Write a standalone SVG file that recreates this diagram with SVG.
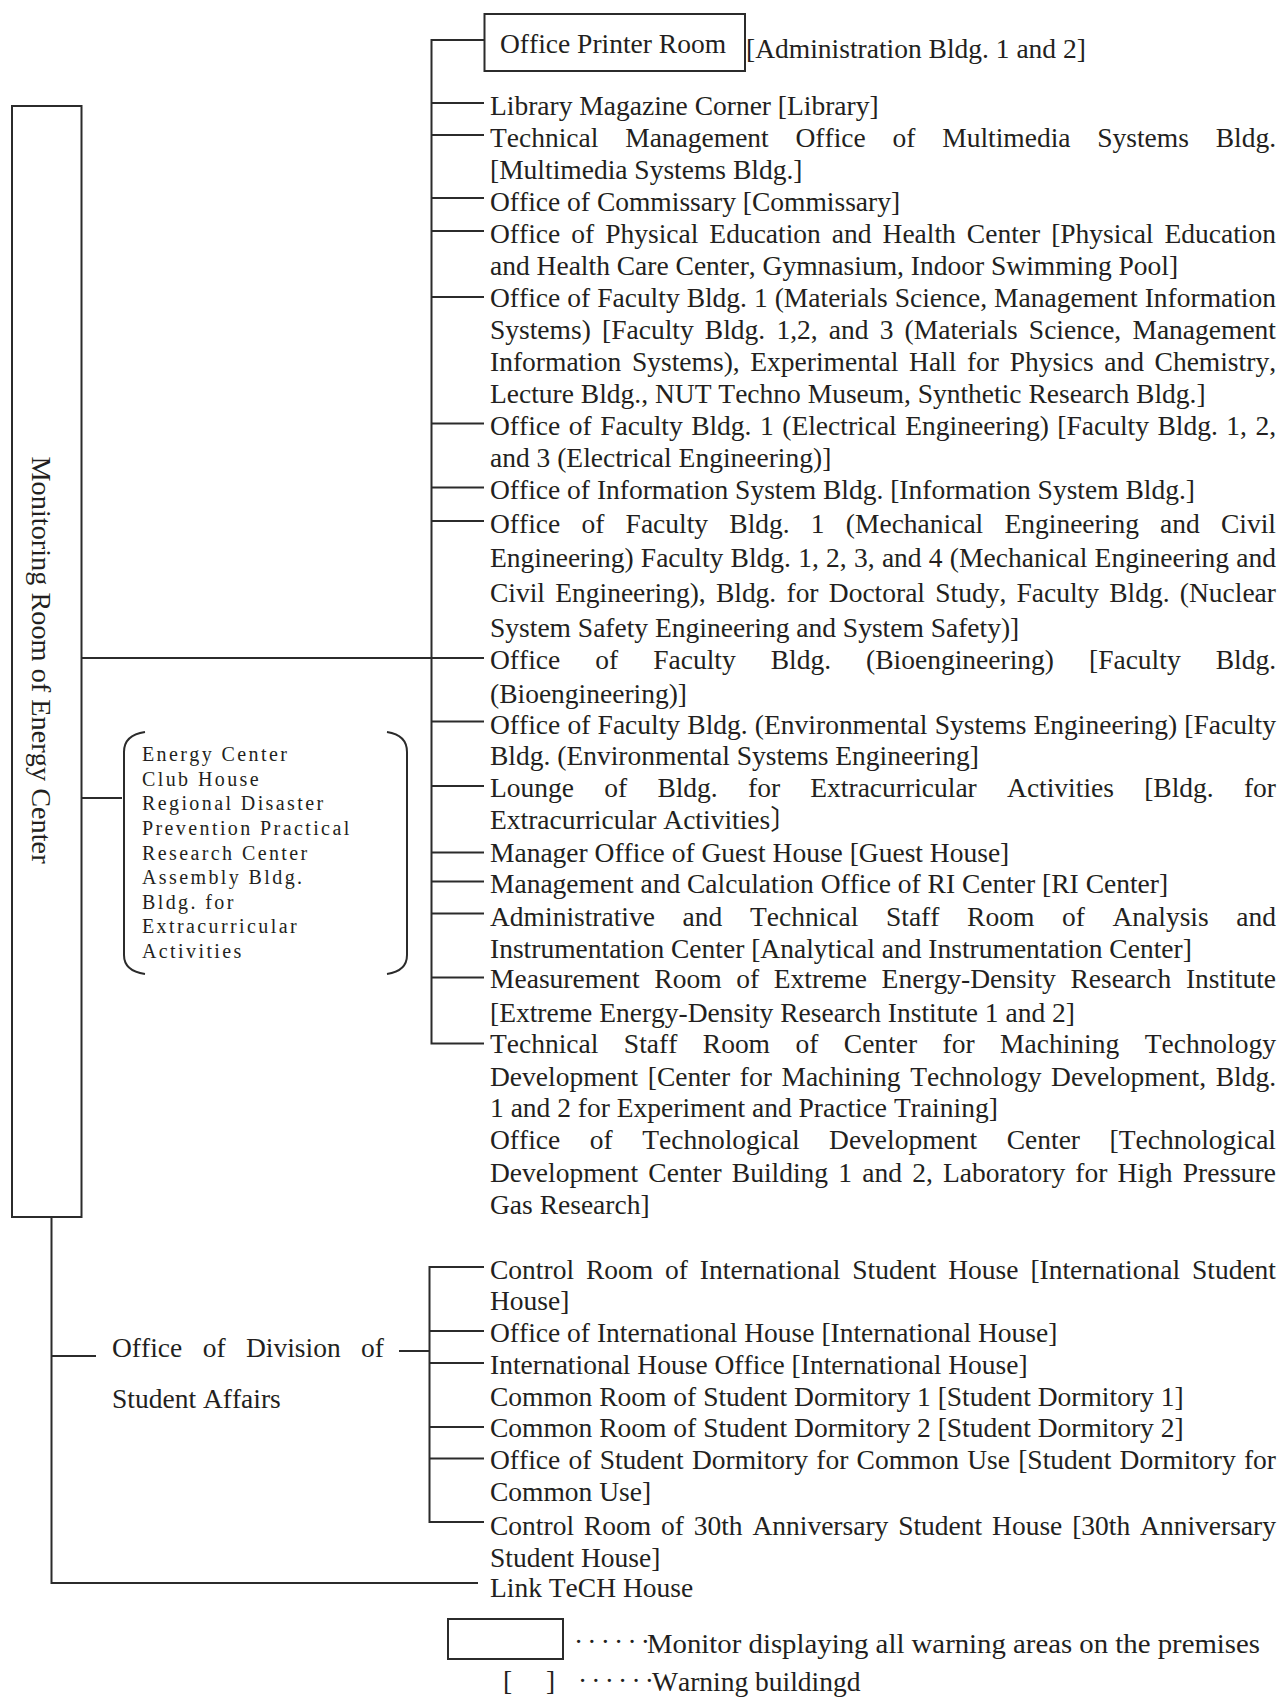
<svg xmlns="http://www.w3.org/2000/svg" width="1282" height="1700" viewBox="0 0 1282 1700">
<style>
  text { font-family: "Liberation Serif", "Times New Roman", "Noto Sans CJK JP", serif; fill: #231f20; font-kerning: none; }
  .t { font-size: 27.5px; }
  .e { font-size: 20px; letter-spacing: 2.4px; }
  .v { font-size: 28.3px; }
  .d { font-size: 27.5px; letter-spacing: 4.2px; }
  .ln { fill: none; stroke: #2b2b2b; stroke-width: 2; }
  .bx { fill: none; stroke: #2b2b2b; stroke-width: 2; }
</style>
<rect width="1282" height="1700" fill="#ffffff"/>

<g id="connectors" class="ln">
  <path d="M484,40 H431.5 V1043.5 H484"/>
  <path d="M431.5,103 H484 M431.5,135 H484 M431.5,198 H484 M431.5,231 H484 M431.5,297 H484 M431.5,423.5 H484 M431.5,487.5 H484 M431.5,521 H484 M431.5,721.5 H484 M431.5,786 H484 M431.5,852.5 H484 M431.5,881.5 H484 M431.5,913.5 H484 M431.5,977.5 H484"/>
  <path d="M81.5,658 H484"/>
  <path d="M81.5,798 H122"/>
  <path d="M51.5,1218 V1583 H478"/>
  <path d="M51.5,1356 H96"/>
  <path d="M399,1351 H429.5"/>
  <path d="M484,1267 H429.5 V1522 H484"/>
  <path d="M429.5,1331 H484 M429.5,1363 H484 M429.5,1427 H484 M429.5,1458.5 H484"/>
</g>

<g id="monitoring-room">
  <rect class="bx" x="12" y="106" width="69.5" height="1111"/>
  <text class="v" transform="translate(32,660) rotate(90)" text-anchor="middle">Monitoring Room of Energy Center</text>
</g>

<g id="energy-center-group">
  <path class="ln" d="M145,732 Q124,735 124,752 V955 Q124,971 145,974"/>
  <path class="ln" d="M387,732 Q407,735 407,752 V955 Q407,971 387,974"/>
  <text class="e" x="142" y="761">Energy Center</text>
  <text class="e" x="142" y="785.7">Club House</text>
  <text class="e" x="142" y="810">Regional Disaster</text>
  <text class="e" x="142" y="835">Prevention Practical</text>
  <text class="e" x="142" y="859.7">Research Center</text>
  <text class="e" x="142" y="884.3">Assembly Bldg.</text>
  <text class="e" x="142" y="909">Bldg. for</text>
  <text class="e" x="142" y="933.3">Extracurricular</text>
  <text class="e" x="142" y="957.7">Activities</text>
</g>

<g id="office-printer-room">
  <rect class="bx" x="484.5" y="14" width="260.5" height="57"/>
  <text class="t" x="500" y="53">Office Printer Room</text>
  <text class="t" x="746" y="58">[Administration Bldg. 1 and 2]</text>
</g>

<g id="library">
  <text class="t" x="490" y="115">Library Magazine Corner [Library]</text>
</g>
<g id="multimedia">
  <text class="t" x="490" y="147" style="word-spacing:19.87px" textLength="786" lengthAdjust="spacing">Technical Management Office of Multimedia Systems Bldg.</text>
  <text class="t" x="490" y="179">[Multimedia Systems Bldg.]</text>
</g>
<g id="commissary">
  <text class="t" x="490" y="211">Office of Commissary [Commissary]</text>
</g>
<g id="physical-education">
  <text class="t" x="490" y="243" style="word-spacing:4.12px" textLength="786" lengthAdjust="spacing">Office of Physical Education and Health Center [Physical Education</text>
  <text class="t" x="490" y="275">and Health Care Center, Gymnasium, Indoor Swimming Pool]</text>
</g>
<g id="faculty-materials">
  <text class="t" x="490" y="307" style="word-spacing:0.11px" textLength="786" lengthAdjust="spacing">Office of Faculty Bldg. 1 (Materials Science, Management Information</text>
  <text class="t" x="490" y="339" style="word-spacing:4.3px" textLength="786" lengthAdjust="spacing">Systems) [Faculty Bldg. 1,2, and 3 (Materials Science, Management</text>
  <text class="t" x="490" y="371" style="word-spacing:3.71px" textLength="786" lengthAdjust="spacing">Information Systems), Experimental Hall for Physics and Chemistry,</text>
  <text class="t" x="490" y="403">Lecture Bldg., NUT Techno Museum, Synthetic Research Bldg.]</text>
</g>
<g id="faculty-electrical">
  <text class="t" x="490" y="435" style="word-spacing:1.61px" textLength="786" lengthAdjust="spacing">Office of Faculty Bldg. 1 (Electrical Engineering) [Faculty Bldg. 1, 2,</text>
  <text class="t" x="490" y="467">and 3 (Electrical Engineering)]</text>
</g>
<g id="information-system">
  <text class="t" x="490" y="499">Office of Information System Bldg. [Information System Bldg.]</text>
</g>
<g id="faculty-mechanical">
  <text class="t" x="490" y="532.5" style="word-spacing:14.33px" textLength="786" lengthAdjust="spacing">Office of Faculty Bldg. 1 (Mechanical Engineering and Civil</text>
  <text class="t" x="490" y="567" style="word-spacing:0.39px" textLength="786" lengthAdjust="spacing">Engineering) Faculty Bldg. 1, 2, 3, and 4 (Mechanical Engineering and</text>
  <text class="t" x="490" y="601.5" style="word-spacing:3.34px" textLength="786" lengthAdjust="spacing">Civil Engineering), Bldg. for Doctoral Study, Faculty Bldg. (Nuclear</text>
  <text class="t" x="490" y="636.5">System Safety Engineering and System Safety)]</text>
</g>
<g id="faculty-bioengineering">
  <text class="t" x="490" y="668.5" style="word-spacing:28.14px" textLength="786" lengthAdjust="spacing">Office of Faculty Bldg. (Bioengineering) [Faculty Bldg.</text>
  <text class="t" x="490" y="703">(Bioengineering)]</text>
</g>
<g id="faculty-environmental">
  <text class="t" x="490" y="733.5" style="word-spacing:0.33px" textLength="786" lengthAdjust="spacing">Office of Faculty Bldg. (Environmental Systems Engineering) [Faculty</text>
  <text class="t" x="490" y="765">Bldg. (Environmental Systems Engineering]</text>
</g>
<g id="extracurricular-lounge">
  <text class="t" x="490" y="797" style="word-spacing:23.36px" textLength="786" lengthAdjust="spacing">Lounge of Bldg. for Extracurricular Activities [Bldg. for</text>
  <text class="t" x="490" y="828.5">Extracurricular Activities〕</text>
</g>
<g id="guest-house">
  <text class="t" x="490" y="861.5">Manager Office of Guest House [Guest House]</text>
</g>
<g id="ri-center">
  <text class="t" x="490" y="893">Management and Calculation Office of RI Center [RI Center]</text>
</g>
<g id="analysis-center">
  <text class="t" x="490" y="926" style="word-spacing:20.74px" textLength="786" lengthAdjust="spacing">Administrative and Technical Staff Room of Analysis and</text>
  <text class="t" x="490" y="957.5">Instrumentation Center [Analytical and Instrumentation Center]</text>
</g>
<g id="extreme-energy">
  <text class="t" x="490" y="987.5" style="word-spacing:7.78px" textLength="786" lengthAdjust="spacing">Measurement Room of Extreme Energy-Density Research Institute</text>
  <text class="t" x="490" y="1021.5">[Extreme Energy-Density Research Institute 1 and 2]</text>
</g>
<g id="machining-center">
  <text class="t" x="490" y="1052.5" style="word-spacing:18.56px" textLength="786" lengthAdjust="spacing">Technical Staff Room of Center for Machining Technology</text>
  <text class="t" x="490" y="1086" style="word-spacing:2.69px" textLength="786" lengthAdjust="spacing">Development [Center for Machining Technology Development, Bldg.</text>
  <text class="t" x="490" y="1116.5">1 and 2 for Experiment and Practice Training]</text>
</g>
<g id="technological-development">
  <text class="t" x="490" y="1148.5" style="word-spacing:22.64px" textLength="786" lengthAdjust="spacing">Office of Technological Development Center [Technological</text>
  <text class="t" x="490" y="1181.5" style="word-spacing:3.32px" textLength="786" lengthAdjust="spacing">Development Center Building 1 and 2, Laboratory for High Pressure</text>
  <text class="t" x="490" y="1213.5">Gas Research]</text>
</g>

<g id="student-affairs">
  <text class="t" x="112" y="1357" style="word-spacing:13.5px" textLength="272" lengthAdjust="spacing">Office of Division of</text>
  <text class="t" x="112" y="1408">Student Affairs</text>
</g>
<g id="international-student-house">
  <text class="t" x="490" y="1278.5" style="word-spacing:5.02px" textLength="786" lengthAdjust="spacing">Control Room of International Student House [International Student</text>
  <text class="t" x="490" y="1310">House]</text>
</g>
<g id="international-house-office-1">
  <text class="t" x="490" y="1342">Office of International House [International House]</text>
</g>
<g id="international-house-office-2">
  <text class="t" x="490" y="1373.5">International House Office [International House]</text>
</g>
<g id="dormitory-1">
  <text class="t" x="490" y="1405.5">Common Room of Student Dormitory 1 [Student Dormitory 1]</text>
</g>
<g id="dormitory-2">
  <text class="t" x="490" y="1437">Common Room of Student Dormitory 2 [Student Dormitory 2]</text>
</g>
<g id="dormitory-common">
  <text class="t" x="490" y="1468.5" style="word-spacing:1.36px" textLength="786" lengthAdjust="spacing">Office of Student Dormitory for Common Use [Student Dormitory for</text>
  <text class="t" x="490" y="1500.5">Common Use]</text>
</g>
<g id="anniversary-house">
  <text class="t" x="490" y="1535" style="word-spacing:2.96px" textLength="786" lengthAdjust="spacing">Control Room of 30th Anniversary Student House [30th Anniversary</text>
  <text class="t" x="490" y="1566.5">Student House]</text>
</g>
<g id="link-tech-house">
  <text class="t" x="490" y="1597">Link TeCH House</text>
</g>

<g id="legend">
  <rect class="bx" x="448" y="1619" width="115" height="40"/>
  <text class="d" x="574" y="1651">······</text>
  <text class="t" x="647" y="1652.5" textLength="613" lengthAdjust="spacingAndGlyphs">Monitor displaying all warning areas on the premises</text>
  <text class="t" y="1690"><tspan x="503">[</tspan><tspan x="546">]</tspan></text>
  <text class="d" x="578" y="1689.5">······</text>
  <text class="t" x="652" y="1690.5">Warning buildingd</text>
</g>
</svg>
